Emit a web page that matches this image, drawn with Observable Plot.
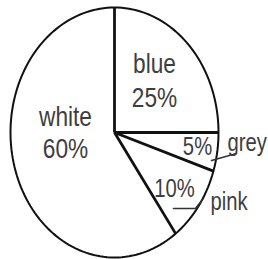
<!DOCTYPE html>
<html><head><meta charset="utf-8">
<script src="https://cdn.jsdelivr.net/npm/d3@7"></script>
<script src="https://cdn.jsdelivr.net/npm/@observablehq/plot@0.6"></script>
<style>body{margin:0;background:#fff}</style>
</head><body><div id="chart"></div>
<script>
// ---- data ----
const categories = ["blue", "grey", "pink", "white"];
const percents = [25, 5, 10, 60];
const percentLabels = ["25%", "5%", "10%", "60%"];

// ---- layout (label anchors in unit-pie coordinates, sizes) ----
const labelLayout = {
  blue:  {name: [0.385, 0.544], pct: [0.385, 0.272], size: 28, nameAnchor: "middle"},
  grey:  {name: [1.087, -0.08], pct: [0.798, -0.112], size: 25, nameAnchor: "start"},
  pink:  {name: [0.923, -0.552], pct: [0.577, -0.448], size: 25, nameAnchor: "start"},
  white: {name: [-0.471, 0.12], pct: [-0.471, -0.136], size: 28, nameAnchor: "middle"}
};
const leaderLayout = {
  grey: [[1.173, -0.168], [0.933, -0.224]],
  pink: [[0.567, -0.608], [0.779, -0.608], [0.846, -0.536]]
};
const textSqueeze = 0.81; // reference uses a condensed face

const slices = d3.pie().sort(null).value(d => d)(percents);

const outline = d3.range(0, 361, 2).map(deg => {
  const a = deg * Math.PI / 180;
  return {u: Math.sin(a), v: Math.cos(a)};
});
const spokes = slices.map(s => ({u1: 0, v1: 0, u2: Math.sin(s.startAngle), v2: Math.cos(s.startAngle)}));

const labels = [];
categories.forEach((c, i) => {
  const L = labelLayout[c];
  labels.push({text: c, u: L.name[0], v: L.name[1], size: L.size, anchor: L.nameAnchor});
  labels.push({text: percentLabels[i], u: L.pct[0], v: L.pct[1], size: L.size, anchor: "middle"});
});
const leaders = Object.entries(leaderLayout).flatMap(([k, pts]) => pts.map(p => ({k, u: p[0], v: p[1]})));

const font = "'Liberation Sans', Arial, sans-serif";
const big = labels.filter(d => d.size === 28);
const small = labels.filter(d => d.size !== 28);
const txt = "#3e3e3e";

const chart = Plot.plot({
  width: 268, height: 259, margin: 0,
  x: {domain: [-1, 1], range: [10, 218], axis: null},
  y: {domain: [-1, 1], range: [257, 7], axis: null},
  style: {background: "#fff", fontFamily: font},
  marks: [
    Plot.line(outline, {x: "u", y: "v", stroke: "#111", strokeWidth: 2, curve: "linear"}),
    Plot.link(spokes, {x1: "u1", y1: "v1", x2: "u2", y2: "v2", stroke: "#111", strokeWidth: 2.8}),
    Plot.line(leaders, {x: "u", y: "v", z: "k", stroke: "#333", strokeWidth: 1.6}),
    Plot.text(big.filter(d => d.anchor === "middle"), {x: "u", y: "v", text: "text", fontSize: 28, fill: txt, fontFamily: font}),
    Plot.text(small.filter(d => d.anchor === "middle"), {x: "u", y: "v", text: "text", fontSize: 25, fill: txt, fontFamily: font}),
    Plot.text(small.filter(d => d.anchor === "start"), {x: "u", y: "v", text: "text", fontSize: 25, textAnchor: "start", fill: txt, fontFamily: font})
  ]
});
chart.querySelectorAll("text").forEach(t => {
  const tr = t.getAttribute("transform");
  if (tr) {
    t.setAttribute("transform", tr + ` scale(${textSqueeze},1)`);
  } else {
    const x = +t.getAttribute("x") || 0, y = +t.getAttribute("y") || 0;
    t.removeAttribute("x"); t.removeAttribute("y");
    t.setAttribute("transform", `translate(${x},${y}) scale(${textSqueeze},1)`);
  }
});
document.getElementById("chart").appendChild(chart);
</script>
</body></html>
